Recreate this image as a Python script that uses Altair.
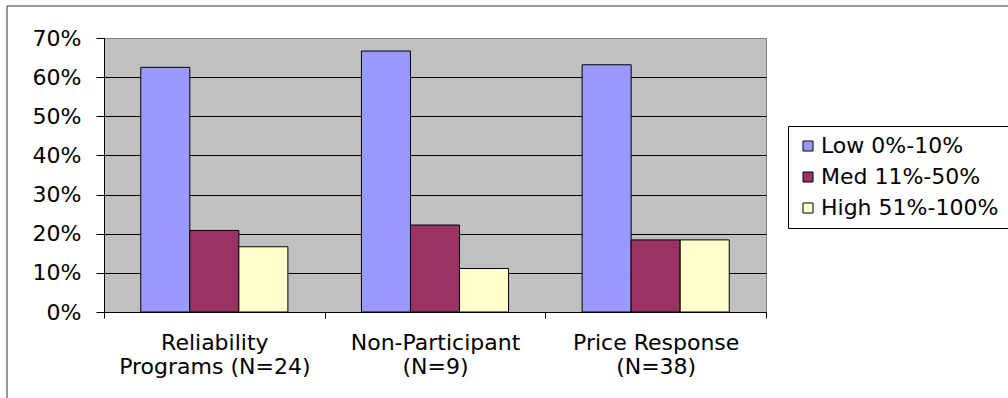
import altair as alt
import pandas as pd

# Survey groups ("|" marks the line break in the axis label)
programs = ["Reliability|Programs (N=24)", "Non-Participant|(N=9)", "Price Response|(N=38)"]
levels = ["Low 0%-10%", "Med 11%-50%", "High 51%-100%"]
colors = ["#9999FF", "#993366", "#FFFFCC"]

# Share of respondents in each load-reduction band
low = [0.625, 0.6667, 0.6316]
med = [0.2083, 0.2222, 0.1842]
high = [0.1667, 0.1111, 0.1842]

y_ticks = [0, 0.1, 0.2, 0.3, 0.4, 0.5, 0.6, 0.7]

rows = []
for i, p in enumerate(programs):
    for lvl, series in zip(levels, [low, med, high]):
        rows.append({"program": p, "level": lvl, "share": series[i]})
df = pd.DataFrame(rows)

FONT = "DejaVu Sans"
SIZE = 22

bars = alt.Chart(df).mark_bar(stroke="black", strokeWidth=1).encode(
    x=alt.X(
        "program:N",
        sort=programs,
        title=None,
        scale=alt.Scale(paddingInner=0, paddingOuter=0),
        axis=alt.Axis(
            labelExpr="split(datum.label, '|')",
            labelAngle=0,
            labelBaseline="top",
            labelLineHeight=24,
            labelPadding=14,
            labelLimit=0,
            tickBand="extent",
            tickSize=6,
            tickColor="black",
            domainColor="black",
            grid=False,
        ),
    ),
    xOffset=alt.XOffset(
        "level:N", sort=levels, scale=alt.Scale(paddingInner=0, paddingOuter=0.75)
    ),
    y=alt.Y(
        "share:Q",
        title=None,
        scale=alt.Scale(domain=[0, 0.7], nice=False),
        axis=alt.Axis(
            format=".0%",
            values=y_ticks,
            tickSize=8,
            labelPadding=15,
            tickColor="black",
            domainColor="black",
            grid=True,
            gridColor={
                "condition": {"test": "datum.value >= 0.7", "value": "#808080"},
                "value": "black",
            },
        ),
    ),
    color=alt.Color(
        "level:N",
        sort=levels,
        scale=alt.Scale(domain=levels, range=colors),
        legend=alt.Legend(
            title=None,
            orient="none",
            legendX=684,
            legendY=88,
            symbolType="square",
            symbolSize=100,
            symbolStrokeColor="black",
            symbolStrokeWidth=1,
            labelOffset=2,
            labelLimit=0,
            rowPadding=9,
            padding=9,
            strokeColor="black",
            fillColor="white",
        ),
    ),
)

# Thin frame around the whole chart area
frame = alt.Chart(pd.DataFrame({"k": [0]})).mark_rect(
    filled=False, stroke="#333333", strokeWidth=1
).encode(
    x=alt.value(-97),
    x2=alt.value(2000),
    y=alt.value(-32),
    y2=alt.value(2000),
)

chart = (
    alt.layer(bars, frame)
    .properties(
        width=662,
        height=274,
        autosize=alt.AutoSizeParams(type="none"),
        padding={"left": 104, "top": 38, "right": 242, "bottom": 86},
        background="white",
    )
    .configure_view(fill="#C0C0C0", stroke="#808080", strokeWidth=1)
    .configure_axis(
        labelFont=FONT, labelFontSize=SIZE, labelColor="black", gridWidth=1, domainWidth=1
    )
    .configure_legend(labelFont=FONT, labelFontSize=SIZE, labelColor="black", labelLimit=0)
)

chart.save("out.html", embed_options={"renderer": "svg", "actions": False})
